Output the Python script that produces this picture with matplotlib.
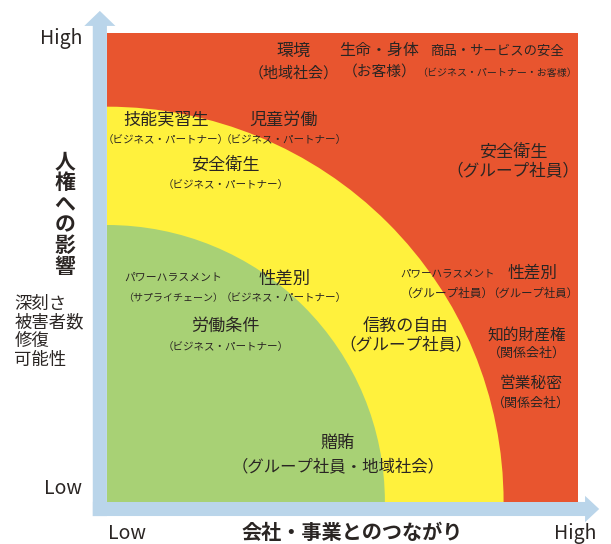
import matplotlib
matplotlib.use("Agg")
import matplotlib.pyplot as plt
from matplotlib.patches import Rectangle, Wedge, FancyArrow

plt.rcParams['font.family'] = ['Noto Sans CJK JP', 'DejaVu Sans']

# risk items: title, stakeholder, connection (x), impact (y)
titles = ["環境", "生命・身体", "商品・サービスの安全",
          "技能実習生", "児童労働", "安全衛生", "安全衛生",
          "パワーハラスメント", "性差別", "労働条件",
          "パワーハラスメント", "性差別", "信教の自由",
          "知的財産権", "営業秘密", "贈賄"]
groups = ["（地域社会）", "（お客様）", "（ビジネス・パートナー・お客様）",
          "（ビジネス・パートナー）", "（ビジネス・パートナー）", "（ビジネス・パートナー）", "（グループ社員）",
          "（サプライチェーン）", "（ビジネス・パートナー）", "（ビジネス・パートナー）",
          "（グループ社員）", "（グループ社員）", "（グループ社員）",
          "（関係会社）", "（関係会社）", "（グループ社員・地域社会）"]
connection = [3.96, 5.78, 8.27, 1.25, 3.75, 2.52, 8.62, 1.40, 3.76, 2.52,
              7.23, 9.04, 6.34, 8.91, 9.00, 4.90]
impact = [9.61, 9.61, 9.61, 8.14, 8.14, 7.18, 7.46, 4.77, 4.77, 3.75,
          4.88, 4.88, 3.75, 3.56, 2.53, 1.26]

# zone radii (green / yellow), outer square is red
r_low = 5.90
r_mid = 8.42

# per-label font sizes (title, group) and gap between lines in points
title_fs = [12.3, 11.5, 9.6, 12.3, 12.3, 12.3, 12.3, 7.8, 12.5, 12.3,
            7.6, 12.0, 12.3, 11.3, 11.3, 12.3]
group_fs = [10.8, 10.6, 7.2, 7.6, 7.6, 7.6, 12.0, 7.2, 7.6, 7.6,
            8.4, 8.2, 12.0, 9.4, 9.4, 11.8]
gaps = [16, 16, 16, 14.5, 14.5, 14.5, 14.5, 14.5, 14.5, 15,
        14.5, 14.5, 14.5, 13, 14.5, 17]

red = '#E8552F'
yellow = '#FFF13D'
green = '#A8D175'
blue = '#BAD5EA'
ink = '#2a2523'

fig = plt.figure(figsize=(6.11, 5.44), dpi=100)
ax = fig.add_axes([107/611, 42/544, 471/611, 469.5/544])
ax.set_xlim(0, 10)
ax.set_ylim(0, 10)
ax.axis('off')

ax.add_patch(Rectangle((0, 0), 10, 10, color=red, lw=0, zorder=1))
ax.add_patch(Wedge((0, 0), r_mid, 0, 90, color=yellow, lw=0, zorder=2))
ax.add_patch(Wedge((0, 0), r_low, 0, 90, color=green, lw=0, zorder=3))

# axis arrows
ax.add_patch(FancyArrow(-0.152, -0.30, 0, 10.76, width=0.30, head_width=0.66,
                        head_length=0.32, length_includes_head=True,
                        color=blue, lw=0, clip_on=False, zorder=0))
ax.add_patch(FancyArrow(-0.30, -0.149, 10.75, 0, width=0.30, head_width=0.56,
                        head_length=0.30, length_includes_head=True,
                        color=blue, lw=0, clip_on=False, zorder=0))

for i in range(len(titles)):
    ax.text(connection[i], impact[i], titles[i], fontsize=title_fs[i], color=ink,
            ha='center', va='center', zorder=5)
    ax.annotate(groups[i], (connection[i], impact[i]), xytext=(0, -gaps[i]),
                textcoords='offset points', fontsize=group_fs[i], color=ink,
                ha='center', va='center', zorder=5)

# axis text
ax.text(-0.53, 9.88, "High", fontsize=14, color=ink, ha='right', va='center', clip_on=False)
ax.text(-0.53, 0.28, "Low", fontsize=14, color=ink, ha='right', va='center', clip_on=False)
ax.text(0.02, -0.68, "Low", fontsize=14, color=ink, ha='left', va='center', clip_on=False)
ax.text(9.95, -0.68, "High", fontsize=14, color=ink, ha='center', va='center', clip_on=False)
ax.text(5.2, -0.66, "会社・事業とのつながり", fontsize=14.5, fontweight='bold', color=ink,
        ha='center', va='center', clip_on=False)
ax.text(-0.89, 6.13, "人\n権\nへ\nの\n影\n響", fontsize=15, fontweight='bold', color=ink,
        ha='center', va='center', linespacing=1.0, clip_on=False)
ax.text(-1.97, 3.63, "深刻さ\n被害者数\n修復\n可能性", fontsize=12.5, color=ink,
        ha='left', va='center', linespacing=1.05, clip_on=False)

fig.savefig("out.png", dpi=100)
